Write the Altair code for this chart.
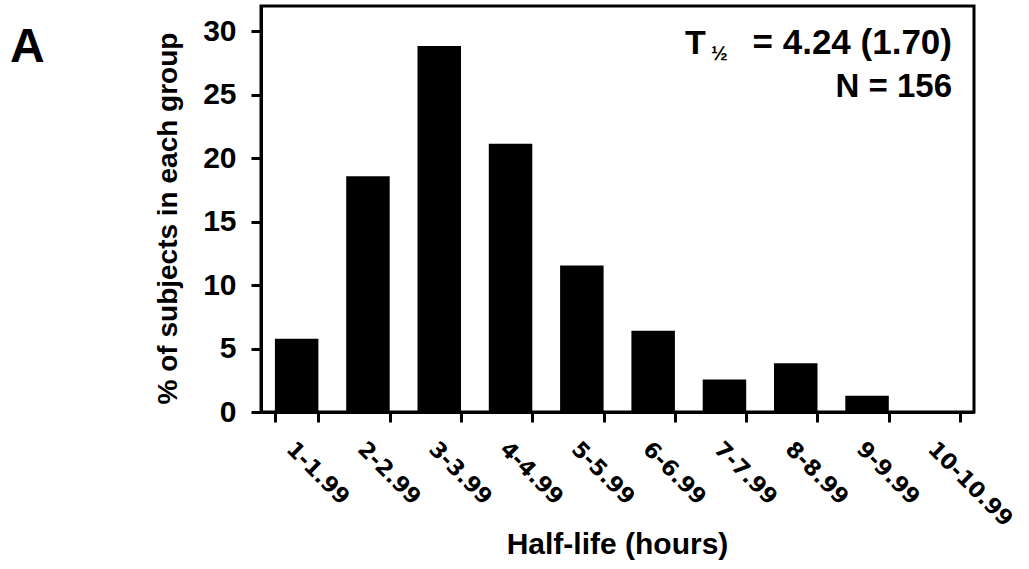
import altair as alt
import pandas as pd

categories = ["1-1.99", "2-2.99", "3-3.99", "4-4.99", "5-5.99",
              "6-6.99", "7-7.99", "8-8.99", "9-9.99", "10-10.99"]
percent = [5.77, 18.59, 28.85, 21.15, 11.54, 6.41, 2.56, 3.85, 1.28, 0.0]
y_ticks = [0, 5, 10, 15, 20, 25, 30]

df = pd.DataFrame({"group": categories, "pct": percent})

bars = alt.Chart(df).mark_bar(color="black").encode(
    x=alt.X("group:N", sort=categories,
            scale=alt.Scale(paddingInner=0.39, paddingOuter=0.195),
            axis=alt.Axis(
                title="Half-life (hours)", titleFont="Liberation Sans", titleFontWeight="bold",
                titleFontSize=30, titleColor="black", titleX=356, titleY=132,
                titleBaseline="middle", titleAlign="center",
                labelAngle=45, labelAlign="left", labelBaseline="top",
                labelFont="DejaVu Sans", labelFontWeight="bold", labelFontSize=22,
                labelColor="black", labelPadding=16,
                domainColor="black", domainWidth=3, tickColor="black", tickWidth=3,
                tickSize=10, tickBand="extent", grid=False)),
    y=alt.Y("pct:Q", scale=alt.Scale(domain=[0, 32], nice=False),
            axis=alt.Axis(
                title="% of subjects in each group", titleFont="Liberation Sans",
                titleFontWeight="bold", titleFontSize=28, titleColor="black",
                titleX=-93, titleY=212, titleAngle=-90, titleAlign="center",
                titleBaseline="middle",
                values=y_ticks, labelFont="Liberation Sans", labelFontWeight="bold",
                labelFontSize=30, labelColor="black", labelPadding=15,
                domainColor="black", domainWidth=3, tickColor="black", tickWidth=3,
                tickSize=10, grid=False)),
)

panel_label = ["A"]
stat_t = ["T"]
stat_half = ["\u00bd"]
stat_rest = ["= 4.24 (1.70)"]
stat_n = ["N = 156"]

def txt(values, x, y, size, align):
    return alt.Chart(pd.DataFrame({"t": values})).mark_text(
        font="Liberation Sans", fontWeight="bold", fontSize=size, color="black",
        align=align, baseline="alphabetic").encode(
        x=alt.value(x), y=alt.value(y), text="t:N")

layers = alt.layer(
    bars,
    txt(panel_label, -251, 56, 48, "left"),
    txt(stat_t, 424, 48, 34, "left"),
    txt(stat_half, 450, 54, 20, "left"),
    txt(stat_rest, 691, 48, 35, "right"),
    txt(stat_n, 691, 91, 33, "right"),
).properties(
    width=713, height=406,
    background="white",
    autosize=alt.AutoSizeParams(type="none"),
    padding={"left": 261, "top": 6, "right": 55, "bottom": 157},
).configure_view(stroke="black", strokeWidth=3)

layers.save("out.html", embed_options={"renderer": "svg", "actions": False})
